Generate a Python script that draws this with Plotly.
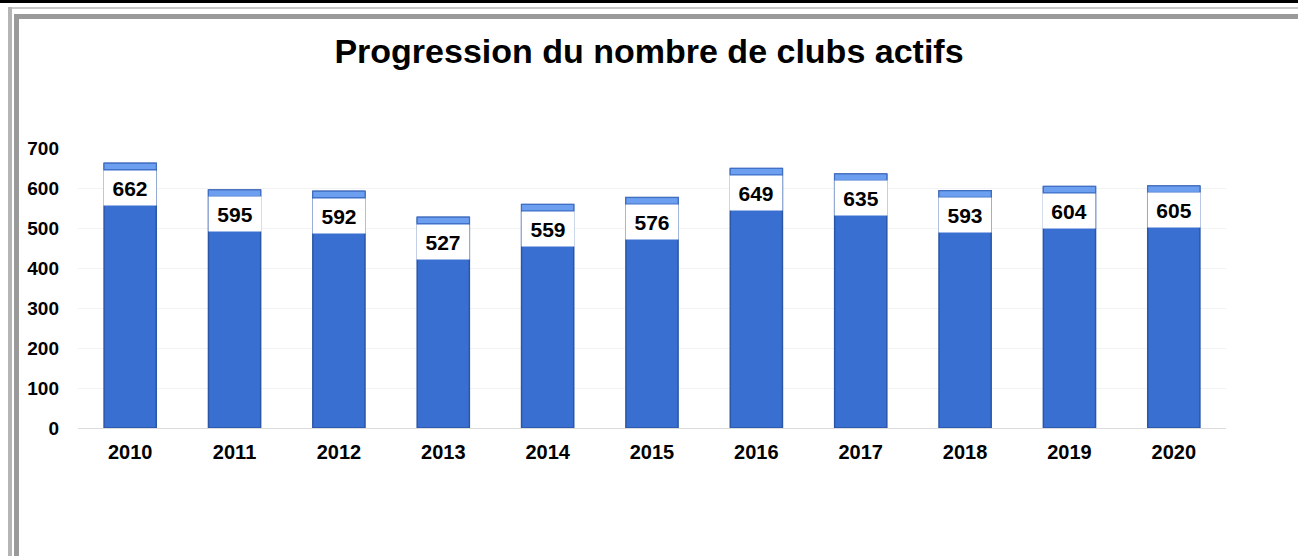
import plotly.graph_objects as go

years = ["2010", "2011", "2012", "2013", "2014", "2015", "2016", "2017", "2018", "2019", "2020"]
clubs = [662, 595, 592, 527, 559, 576, 649, 635, 593, 604, 605]
y_ticks = [0, 100, 200, 300, 400, 500, 600, 700]

W, H = 1298, 556
L, R, T, B = 78, 72, 148, 128
FONT = "Liberation Sans, Arial, sans-serif"
CAP = 16  # hauteur du chapeau clair en unités de données

pos = list(range(len(years)))

def px_x(p):
    return (p - L) / (W - L - R)

def px_y(p):
    return (H - B - p) / (H - T - B)

fig = go.Figure()

# barres principales
fig.add_trace(go.Bar(
    x=pos, y=clubs,
    marker=dict(color="#3a6fd2", line=dict(color="#2b56a6", width=1.5)),
    width=0.5, hoverinfo="y",
))

# chapeau plus clair en haut de chaque barre
fig.add_trace(go.Bar(
    x=pos, y=[CAP] * len(clubs), base=[v - CAP for v in clubs],
    marker=dict(color="#6d9ff0", line=dict(color="#3f6fc4", width=1)),
    width=0.5, hoverinfo="skip",
))

# étiquettes de valeurs dans des cases blanches
for p, v in zip(pos, clubs):
    fig.add_annotation(
        x=p, y=v - CAP, yanchor="top",
        text=str(v), showarrow=False,
        bgcolor="white", width=50, height=32, borderpad=1,
        font=dict(family=FONT, size=21, color="black", weight="bold"),
    )

# cadre façon fenêtre
shapes = [
    dict(type="rect", x0=px_x(0), x1=px_x(W), y0=px_y(0), y1=px_y(3),
         fillcolor="black", line_width=0),
    dict(type="rect", x0=px_x(8), x1=px_x(W), y0=px_y(7), y1=px_y(9),
         fillcolor="#c8c8c8", line_width=0),
    dict(type="rect", x0=px_x(8), x1=px_x(12), y0=px_y(7), y1=px_y(H),
         fillcolor="#b4b4b4", line_width=0),
    dict(type="rect", x0=px_x(14), x1=px_x(W), y0=px_y(14), y1=px_y(19),
         fillcolor="#9a9a9a", line_width=0),
    dict(type="rect", x0=px_x(14), x1=px_x(19), y0=px_y(14), y1=px_y(H),
         fillcolor="#9a9a9a", line_width=0),
]
for s in shapes:
    s.update(xref="paper", yref="paper", layer="above")

fig.update_layout(
    width=W, height=H,
    margin=dict(l=L, r=R, t=T, b=B),
    paper_bgcolor="white", plot_bgcolor="white",
    barmode="overlay", showlegend=False,
    title=dict(text="Progression du nombre de clubs actifs",
               x=0.5, xanchor="center", y=1 - 51 / H, yanchor="middle",
               font=dict(family=FONT, size=34, color="black", weight="bold")),
    font=dict(family=FONT, color="black"),
    shapes=shapes,
    xaxis=dict(range=[-0.5, len(years) - 0.5], tickvals=pos, ticktext=years,
               showgrid=False, ticks="", ticklabelstandoff=10,
               tickfont=dict(family=FONT, size=20, color="black", weight="bold")),
    yaxis=dict(range=[0, 700], tickvals=y_ticks, showgrid=True,
               gridcolor="#f3f3f3", zeroline=True, zerolinecolor="#dcdcdc",
               zerolinewidth=1, ticklabelstandoff=18,
               tickfont=dict(family=FONT, size=19, color="black", weight="bold")),
)

fig.write_html("out.html", config={"displayModeBar": False},
               post_script="document.body.style.margin='0';")
